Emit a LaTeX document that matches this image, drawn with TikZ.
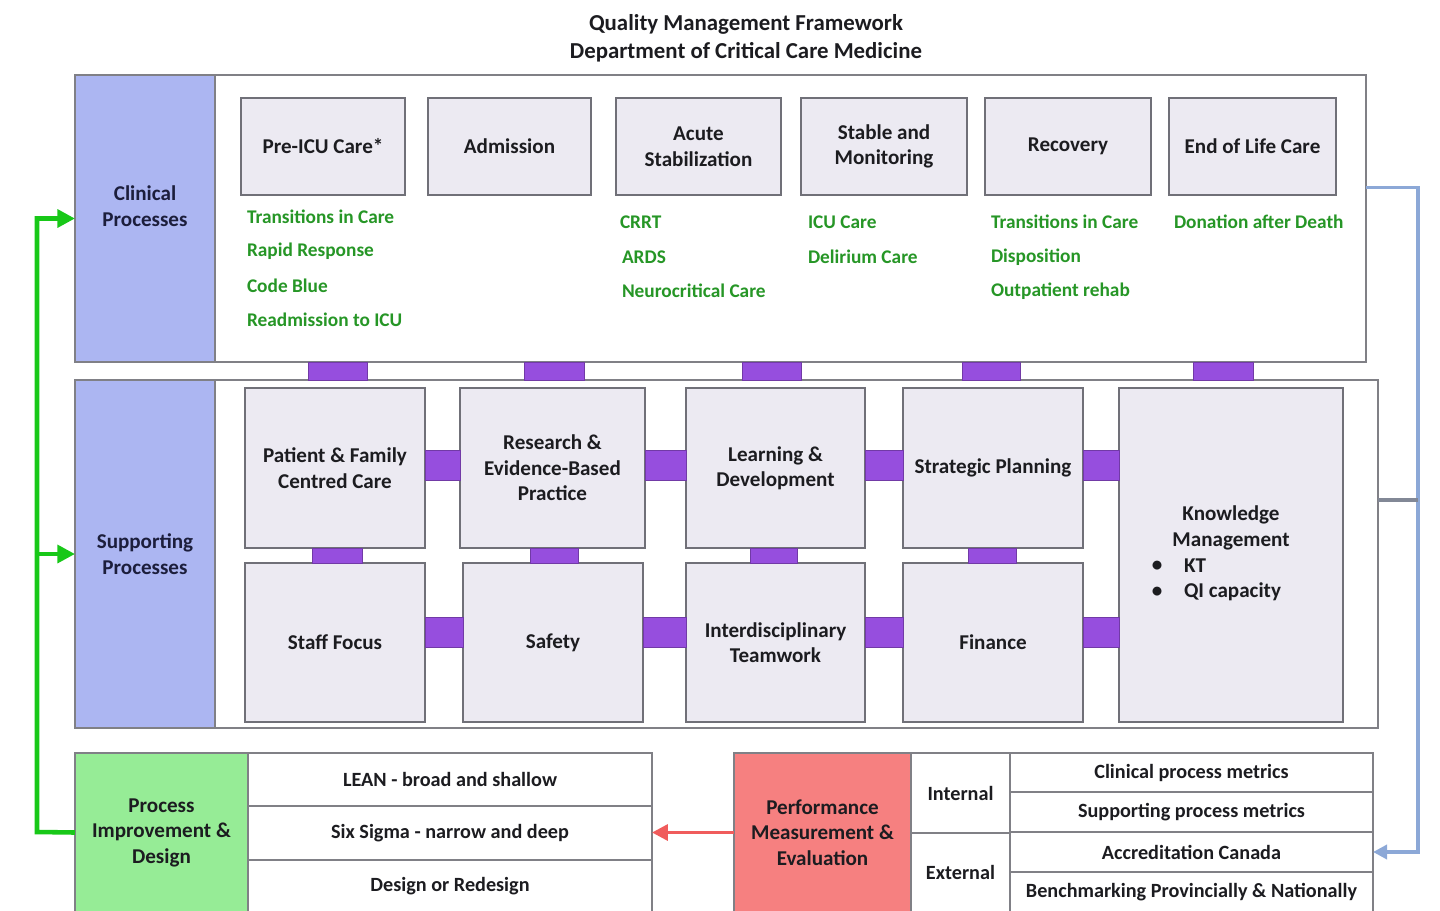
\documentclass[tikz,border=0pt]{standalone}
\usepackage{fontspec}
\setmainfont{Carlito}
\usetikzlibrary{arrows.meta,calc}

\definecolor{framegray}{RGB}{128,128,134}
\definecolor{boxgray}{RGB}{112,112,120}
\definecolor{boxfill}{RGB}{236,234,242}
\definecolor{sideblue}{RGB}{172,182,242}
\definecolor{navytext}{RGB}{28,30,60}
\definecolor{linkpurple}{RGB}{150,78,222}
\definecolor{itemgreen}{RGB}{38,150,38}
\definecolor{loopgreen}{RGB}{24,200,24}
\definecolor{loopblue}{RGB}{140,168,215}
\definecolor{procgreen}{RGB}{150,236,150}
\definecolor{perfred}{RGB}{246,128,128}
\definecolor{arrowred}{RGB}{240,92,92}
\definecolor{inktext}{RGB}{28,28,32}

% rectangle node from its corners: name, x1, y1, x2, y2, style, text
\newcommand\qbox[7]{%
  \pgfmathsetmacro\qbw{(#4-#2)*0.02}%
  \pgfmathsetmacro\qbh{(#5-#3)*0.02}%
  \node[#6, minimum width=\qbw cm, minimum height=\qbh cm] (#1) at ({(#2+#4)/2},{(#3+#5)/2}) {#7};}

\begin{document}
\begin{tikzpicture}[x=0.02cm, y=-0.02cm,
  every node/.style={inner sep=0pt, outer sep=0pt, text=inktext},
  frame/.style={draw=framegray, line width=1.1pt, fill=white},
  side/.style={draw=framegray, line width=1.1pt, fill=sideblue, text=navytext,
    align=center, font=\bfseries\fontsize{12}{14.5}\selectfont},
  sidelabel/.style={text=navytext, align=center, font=\bfseries\fontsize{12}{14.5}\selectfont},
  stepbox/.style={draw=boxgray, line width=1.1pt, fill=boxfill, align=center,
    font=\bfseries\fontsize{12}{14.5}\selectfont},
  tile/.style={draw=boxgray, line width=1.1pt, fill=boxfill, align=center,
    font=\bfseries\fontsize{12}{14.5}\selectfont},
  link/.style={draw=linkpurple!75!black, line width=0.5pt, fill=linkpurple},
  item/.style={anchor=west, text=itemgreen, font=\bfseries\fontsize{11}{13}\selectfont},
  cell/.style={draw=framegray, line width=1.1pt, fill=white, align=center,
    font=\bfseries\fontsize{11.5}{14}\selectfont},
  headcell/.style={draw=framegray, line width=1.1pt, align=center, text=inktext,
    font=\bfseries\fontsize{12}{14.5}\selectfont},
  kmtext/.style={font=\bfseries\fontsize{12}{14.5}\selectfont},
  gloop/.style={draw=loopgreen, line width=2.6pt, -{Triangle[length=10pt,width=10pt]}},
  bloop/.style={draw=loopblue, line width=2pt},
  rarrow/.style={draw=arrowred, line width=2pt, -{Triangle[length=9pt,width=9pt]}}]

\useasboundingbox (0,0) rectangle (1440,910);

% title
\node[font=\bfseries\fontsize{13}{16}\selectfont, align=center] (title) at (746,38)
  {Quality Management Framework\\Department of Critical Care Medicine};

% ---------- clinical processes ----------
\qbox{clin}{75}{75}{1366}{362}{frame}{}
\qbox{clinside}{75}{75}{215}{362}{side}{}
\node[sidelabel] (clinlabel) at (145,206) {Clinical\\Processes};

\qbox{s1}{241}{98}{405}{195}{stepbox}{Pre-ICU Care*}
\qbox{s2}{428}{98}{591}{195}{stepbox}{Admission}
\qbox{s3}{616}{98}{781}{195}{stepbox}{Acute\\Stabilization}
\qbox{s4}{801}{98}{967}{195}{stepbox}{Stable and\\Monitoring}
\qbox{s5}{985}{98}{1151}{195}{stepbox}{Recovery}
\qbox{s6}{1169}{98}{1336}{195}{stepbox}{End of Life Care}

\node[item] (i11) at (247,217) {Transitions in Care};
\node[item] (i12) at (247,251) {Rapid Response};
\node[item] (i13) at (247,286) {Code Blue};
\node[item] (i14) at (247,320) {Readmission to ICU};
\node[item] (i31) at (620,222) {CRRT};
\node[item] (i32) at (622,257) {ARDS};
\node[item] (i33) at (622,291) {Neurocritical Care};
\node[item] (i41) at (808,222) {ICU Care};
\node[item] (i42) at (808,257) {Delirium Care};
\node[item] (i51) at (991,222) {Transitions in Care};
\node[item] (i52) at (991,257) {Disposition};
\node[item] (i53) at (991,291) {Outpatient rehab};
\node[item] (i61) at (1174,222) {Donation after Death};

% ---------- supporting processes ----------
\qbox{supp}{75}{380}{1378}{728}{frame}{}
\qbox{suppside}{75}{380}{215}{728}{side}{Supporting\\Processes}

% links between the two bands
\qbox{v1}{308}{362}{367}{380}{link}{}
\qbox{v2}{524}{362}{584}{380}{link}{}
\qbox{v3}{742}{362}{801}{380}{link}{}
\qbox{v4}{962}{362}{1020}{380}{link}{}
\qbox{v5}{1193}{362}{1253}{380}{link}{}

\qbox{t11}{245}{388}{425}{548}{tile}{Patient \& Family\\Centred Care}
\qbox{t12}{460}{388}{645}{548}{tile}{Research \&\\Evidence-Based\\Practice}
\qbox{t13}{686}{388}{865}{548}{tile}{Learning \&\\Development}
\qbox{t14}{903}{388}{1083}{548}{tile}{Strategic Planning}
\qbox{t21}{245}{563}{425}{722}{tile}{Staff Focus}
\qbox{t22}{463}{563}{643}{722}{tile}{Safety}
\qbox{t23}{686}{563}{865}{722}{tile}{Interdisciplinary\\Teamwork}
\qbox{t24}{903}{563}{1083}{722}{tile}{Finance}
\qbox{km}{1119}{388}{1343}{722}{tile}{}

\node[kmtext, align=center] (kmhead) at (1231,528) {Knowledge\\Management};
\node[kmtext] (kmb1) at (1157,566) {\textbullet};
\node[kmtext, anchor=west] (kmt1) at (1184,566) {KT};
\node[kmtext] (kmb2) at (1157,592) {\textbullet};
\node[kmtext, anchor=west] (kmt2) at (1184,592) {QI capacity};

% horizontal links between tiles
\qbox{h11}{425}{450}{460}{480}{link}{}
\qbox{h12}{645}{450}{686}{480}{link}{}
\qbox{h13}{865}{450}{903}{480}{link}{}
\qbox{h14}{1083}{450}{1119}{480}{link}{}
\qbox{h21}{425}{617}{463}{647}{link}{}
\qbox{h22}{643}{617}{686}{647}{link}{}
\qbox{h23}{865}{617}{903}{647}{link}{}
\qbox{h24}{1083}{617}{1119}{647}{link}{}
% vertical links between tile rows
\qbox{w1}{312}{548}{362}{563}{link}{}
\qbox{w2}{530}{548}{578}{563}{link}{}
\qbox{w3}{750}{548}{797}{563}{link}{}
\qbox{w4}{968}{548}{1016}{563}{link}{}

% ---------- process improvement ----------
\qbox{proc}{75}{753}{248}{912}{headcell, fill=procgreen}{Process\\Improvement \&\\Design}
\qbox{lean}{248}{753}{652}{806}{cell}{LEAN - broad and shallow}
\qbox{six}{248}{806}{652}{860}{cell}{Six Sigma - narrow and deep}
\qbox{redes}{248}{860}{652}{912}{cell}{Design or Redesign}

% ---------- performance measurement ----------
\qbox{perf}{734}{753}{911}{912}{headcell, fill=perfred}{Performance\\Measurement \&\\Evaluation}
\qbox{intl}{911}{753}{1010}{833}{cell}{Internal}
\qbox{extl}{911}{833}{1010}{912}{cell}{External}
\qbox{m1}{1010}{753}{1373}{792}{cell}{Clinical process metrics}
\qbox{m2}{1010}{792}{1373}{832}{cell}{Supporting process metrics}
\qbox{m3}{1010}{832}{1373}{872}{cell}{Accreditation Canada}
\qbox{m4}{1010}{872}{1373}{912}{cell}{Benchmarking Provincially \& Nationally}

% ---------- feedback loops ----------
\coordinate (gcorner) at (37,832);
\draw[gloop] (proc.west) -- (gcorner) |- (clinside.west);
\draw[gloop] (gcorner |- suppside.west) -- (suppside.west);

\coordinate (bcol) at (1418,0);
\draw[bloop, -{Triangle[length=8pt,width=8pt]}]
  ([yshift=0.62cm]clin.east) -| (bcol |- m3.east) -- (m3.east);
\draw[bloop, draw=framegray!80!loopblue] ([yshift=1.08cm]supp.east) -- ([yshift=1.08cm]supp.east -| bcol);

\draw[rarrow] (perf.west) -- (perf.west -| six.east);
\end{tikzpicture}
\end{document}
